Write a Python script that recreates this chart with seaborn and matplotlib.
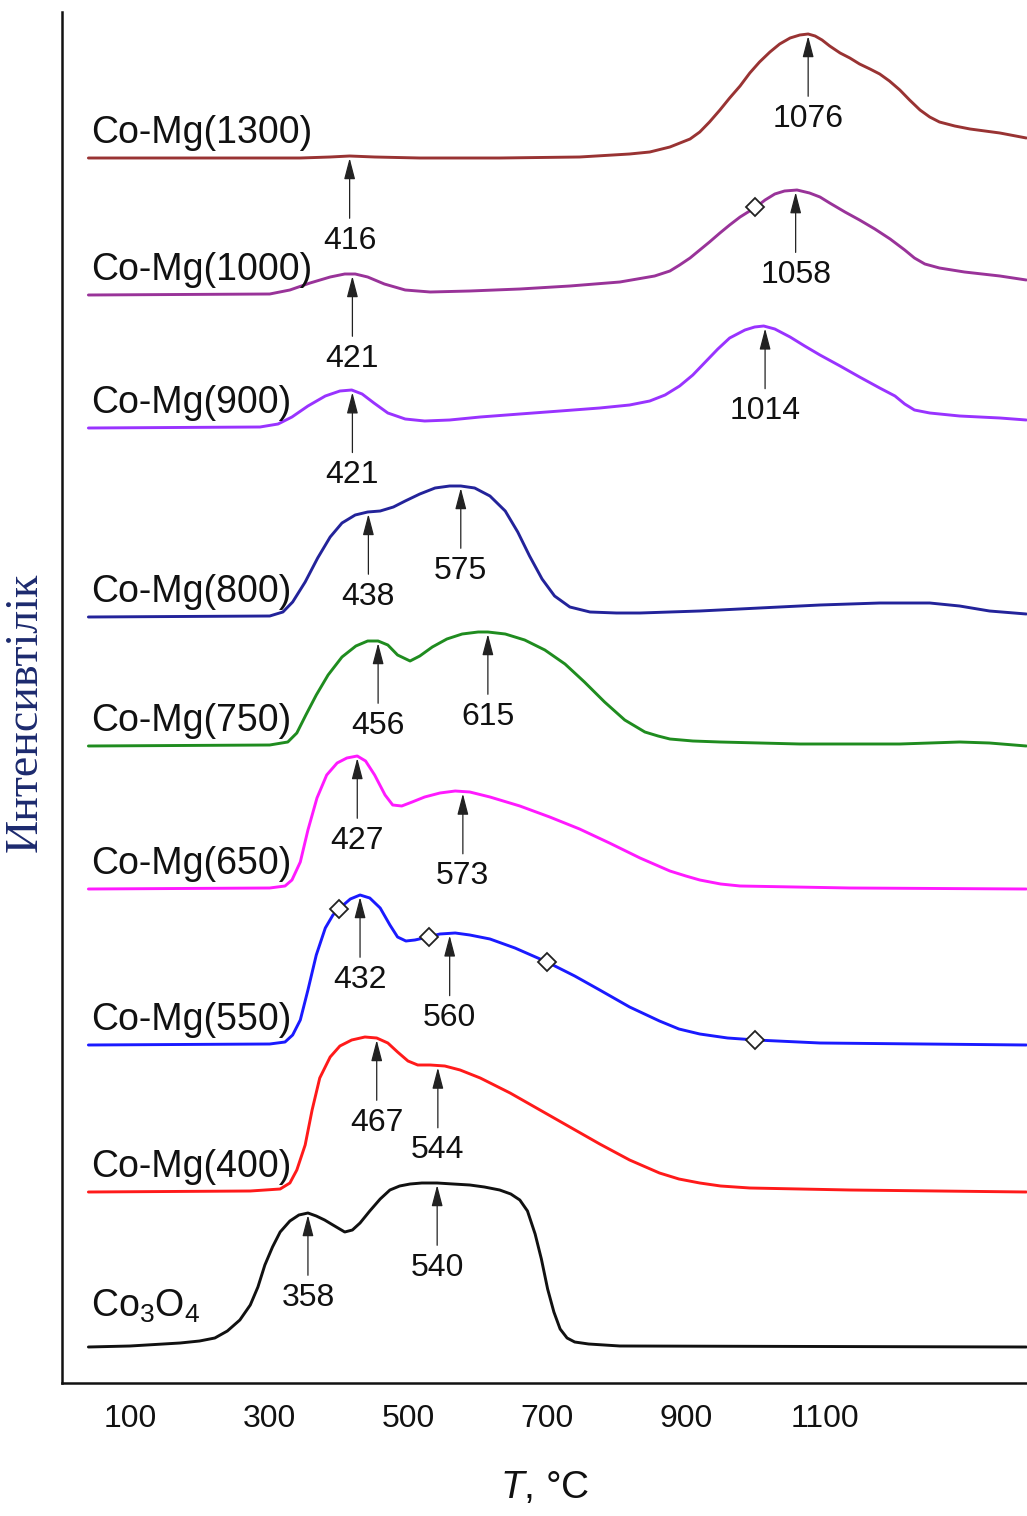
import numpy as np
import pandas as pd
import matplotlib
matplotlib.use("Agg")
import matplotlib.pyplot as plt
import seaborn as sns
from matplotlib import font_manager

# ---------------- data ----------------
samples = ["Co3O4", "Co-Mg(400)", "Co-Mg(550)", "Co-Mg(650)", "Co-Mg(750)",
           "Co-Mg(800)", "Co-Mg(900)", "Co-Mg(1000)", "Co-Mg(1300)"]
labels = [r"$\mathregular{Co_3O_4}$", "Co-Mg(400)", "Co-Mg(550)", "Co-Mg(650)",
          "Co-Mg(750)", "Co-Mg(800)", "Co-Mg(900)", "Co-Mg(1000)", "Co-Mg(1300)"]
colors = ["#111111", "#ff1a1a", "#1a1aff", "#ff1aff", "#1f8c1f",
          "#23239a", "#9933ff", "#993399", "#993333"]
# vertical stacking offsets (arbitrary units)
offsets = [36, 191, 338, 494, 637, 766, 955, 1088, 1225]

t_co3o4 = [40, 100, 172, 200, 222, 240, 258, 273, 284, 294, 305, 316, 330, 343, 356, 368, 380,
           392, 409, 420, 431, 445, 460, 474, 488, 503, 520, 542, 565, 589, 610, 632, 648,
           661, 672, 683, 692, 701, 710, 719, 729, 740, 760, 805, 1390]
i_co3o4 = [0, 1, 4, 6, 9, 16, 27, 42, 60, 82, 100, 115, 126, 132, 134, 131, 127,
           122, 115, 117, 124, 136, 148, 157, 161, 163, 164, 164, 163, 162, 160, 157, 153,
           147, 136, 113, 88, 58, 35, 18, 9, 5, 3, 1, 0]

t_400 = [40, 273, 316, 330, 340, 352, 362, 373, 388, 402, 419, 438, 455, 471, 485, 500, 514,
         532, 553, 575, 604, 647, 690, 733, 776, 819, 862, 890, 920, 950, 992, 1136, 1390]
i_400 = [0, 1, 3, 9, 22, 47, 82, 114, 135, 146, 152, 155, 154, 149, 140, 131, 127,
         127, 126, 122, 114, 99, 82, 65, 48, 32, 19, 13, 9, 6, 4, 2, 0]

t_550 = [40, 301, 323, 334, 345, 356, 368, 381, 392, 402, 417, 431, 445, 460, 474, 485, 497,
         510, 529, 546, 568, 589, 618, 654, 700, 740, 776, 819, 862, 890, 920, 960, 1001,
         1093, 1390]
i_550 = [0, 1, 3, 10, 25, 55, 90, 117, 130, 137, 146, 150, 147, 137, 120, 108, 104,
         105, 108, 111, 112, 110, 106, 97, 83, 69, 55, 38, 24, 16, 11, 7, 5,
         2, 0]

t_650 = [40, 301, 323, 333, 345, 356, 369, 383, 398, 412, 427, 439, 452, 467, 478, 491, 506,
         524, 546, 568, 589, 618, 661, 704, 747, 790, 834, 877, 900, 920, 950, 978, 1136, 1390]
i_650 = [0, 1, 3, 9, 27, 59, 91, 114, 126, 131, 133, 128, 114, 94, 84, 83, 87,
         92, 96, 98, 97, 92, 83, 72, 60, 46, 31, 18, 13, 9, 5, 3, 1, 0]

t_750 = [40, 301, 327, 340, 353, 368, 385, 405, 425, 442, 457, 471, 485, 503, 517, 535, 556,
         578, 601, 615, 640, 668, 697, 726, 754, 783, 812, 841, 860, 877, 910, 949, 1064,
         1208, 1294, 1337, 1390]
i_750 = [0, 1, 4, 13, 31, 51, 71, 89, 100, 105, 105, 101, 91, 85, 90, 99, 107,
         112, 114, 114, 112, 106, 96, 82, 64, 44, 26, 14, 10, 7, 5, 4, 2,
         2, 4, 3, 0]

t_800 = [40, 301, 320, 334, 352, 370, 388, 405, 424, 442, 460, 479, 496, 517, 539, 560, 576,
         596, 618, 640, 658, 675, 693, 711, 733, 762, 800, 834, 920, 1006, 1093, 1179, 1251,
         1294, 1337, 1390]
i_800 = [0, 1, 5, 15, 35, 59, 80, 94, 102, 105, 106, 110, 116, 123, 129, 131, 131,
         129, 121, 106, 85, 61, 38, 21, 10, 5, 4, 4, 6, 9, 12, 14, 14,
         11, 6, 3]

t_900 = [40, 287, 313, 333, 356, 381, 402, 419, 434, 451, 471, 496, 524, 560, 604, 661, 719,
         776, 819, 848, 870, 891, 910, 928, 946, 963, 985, 999, 1012, 1028, 1050, 1071, 1093,
         1122, 1150, 1179, 1201, 1215, 1229, 1251, 1294, 1352, 1390]
i_900 = [0, 1, 4, 11, 22, 32, 37, 38, 34, 25, 15, 9, 7, 8, 11, 14, 17,
         20, 23, 27, 33, 42, 53, 66, 79, 90, 98, 101, 102, 99, 91, 82, 73,
         62, 51, 40, 32, 24, 18, 15, 12, 10, 8]

t_1000 = [40, 301, 330, 359, 388, 409, 424, 442, 466, 496, 532, 589, 661, 733, 805, 855, 877,
          891, 906, 920, 934, 949, 963, 978, 1001, 1014, 1028, 1042, 1060, 1078, 1093, 1107,
          1129, 1150, 1172, 1194, 1215, 1229, 1244, 1265, 1301, 1352, 1390]
i_1000 = [0, 1, 5, 12, 18, 21, 21, 18, 11, 5, 3, 4, 6, 9, 13, 19, 24,
          30, 37, 45, 53, 62, 70, 78, 88, 95, 101, 104, 105, 102, 98, 92,
          83, 75, 66, 56, 45, 37, 31, 27, 23, 19, 15]

t_1300 = [40, 345, 388, 416, 452, 517, 632, 747, 819, 848, 877, 906, 920, 934, 949, 963, 978,
          992, 1006, 1021, 1035, 1050, 1064, 1076, 1086, 1096, 1107, 1122, 1136, 1150, 1165,
          1179, 1193, 1208, 1222, 1237, 1251, 1265, 1287, 1309, 1352, 1390]
i_1300 = [0, 0, 1, 2, 1, 0, 0, 1, 4, 6, 11, 19, 26, 36, 48, 60, 72,
          85, 96, 106, 114, 120, 123, 124, 122, 118, 112, 105, 100, 94, 89,
          84, 77, 68, 58, 48, 41, 36, 32, 29, 25, 20]

curve_t = [t_co3o4, t_400, t_550, t_650, t_750, t_800, t_900, t_1000, t_1300]
curve_i = [i_co3o4, i_400, i_550, i_650, i_750, i_800, i_900, i_1000, i_1300]

# peak annotations: curve, arrow temperature, label
ann_curve = ["Co-Mg(1300)", "Co-Mg(1300)", "Co-Mg(1000)", "Co-Mg(1000)", "Co-Mg(900)",
             "Co-Mg(900)", "Co-Mg(800)", "Co-Mg(800)", "Co-Mg(750)", "Co-Mg(750)",
             "Co-Mg(650)", "Co-Mg(650)", "Co-Mg(550)", "Co-Mg(550)", "Co-Mg(400)",
             "Co-Mg(400)", "Co3O4", "Co3O4"]
ann_t = [1076, 416, 1058, 420, 1014, 420, 443, 576, 457, 615, 427, 579, 431, 560, 455, 543,
         356, 542]
ann_text = ["1076", "416", "1058", "421", "1014", "421", "438", "575", "456", "615", "427",
            "573", "432", "560", "467", "544", "358", "540"]

# diamond markers
dia_curve = ["Co-Mg(550)", "Co-Mg(550)", "Co-Mg(550)", "Co-Mg(550)", "Co-Mg(1000)"]
dia_t = [400, 530, 700, 1000, 1000]

x_ticks = [100, 300, 500, 700, 900, 1100]

# ---------------- styling ----------------
names = {f.name for f in font_manager.fontManager.ttflist}
NARROW = "Liberation Sans Narrow" if "Liberation Sans Narrow" in names else "Liberation Sans"

sns.set_theme(style="white")
plt.rcParams["font.family"] = [NARROW, "DejaVu Sans"]
plt.rcParams["mathtext.fontset"] = "custom"
plt.rcParams["mathtext.rm"] = NARROW
plt.rcParams["mathtext.it"] = NARROW + ":italic"

rows = []
for s, off, ts, is_ in zip(samples, offsets, curve_t, curve_i):
    for t, v in zip(ts, is_):
        rows.append({"T": t, "y": off + v, "sample": s})
df = pd.DataFrame(rows)

fig = plt.figure(figsize=(10.27, 15.16), dpi=100)
ax = fig.add_axes([62 / 1027, 133 / 1516, 965 / 1027, 1371 / 1516])

sns.lineplot(data=df, x="T", y="y", hue="sample", hue_order=samples,
             palette=dict(zip(samples, colors)), linewidth=2.1, legend=False,
             sort=False, estimator=None, ax=ax, solid_joinstyle="round",
             solid_capstyle="round")

idx = {s: k for k, s in enumerate(samples)}

def curve_val(name, t):
    k = idx[name]
    return offsets[k] + np.interp(t, curve_t[k], curve_i[k])

for name, t, txt in zip(ann_curve, ann_t, ann_text):
    ax.annotate(txt, xy=(t, curve_val(name, t)), xytext=(0, -61),
                textcoords="offset points", ha="center", va="center", fontsize=23,
                color="#111111",
                arrowprops=dict(arrowstyle="-|>,head_length=0.65,head_width=0.17",
                                mutation_scale=20, color="#222222", lw=0.9,
                                shrinkA=3, shrinkB=1.5))

dx = [t for t in dia_t]
dy = [curve_val(n, t) for n, t in zip(dia_curve, dia_t)]
ax.plot(dx, dy, linestyle="none", marker="D", markersize=9.5, markerfacecolor="white",
        markeredgecolor="#222222", markeredgewidth=1.3, zorder=5)

for k, (lab, off) in enumerate(zip(labels, offsets)):
    dy_lab = 30 if k == 0 else 15
    ax.text(44, off + dy_lab, lab, fontsize=27, ha="left", va="baseline", color="#111111")

ax.set_xlim(2, 1391)
ax.set_ylim(0, 1371)
ax.set_xticks(x_ticks)
ax.set_xticklabels([str(v) for v in x_ticks])
ax.set_yticks([])
ax.tick_params(axis="x", direction="in", length=11, width=1.3, labelsize=23, pad=15,
               colors="#111111")
for sp in ["top", "right"]:
    ax.spines[sp].set_visible(False)
for sp in ["left", "bottom"]:
    ax.spines[sp].set_linewidth(1.8)
    ax.spines[sp].set_color("#111111")
ax.set_xlabel(r"$\mathit{T}$, °C", fontsize=28, labelpad=26, color="#111111")
ax.set_ylabel("")

fig.text(25 / 1027, 1 - 712 / 1516, "Интенсивтілік", rotation=90, ha="center", va="center",
         fontsize=33, color="#1c2a6e", family=["Liberation Serif", "DejaVu Serif"])

fig.savefig("out.png", dpi=100)
